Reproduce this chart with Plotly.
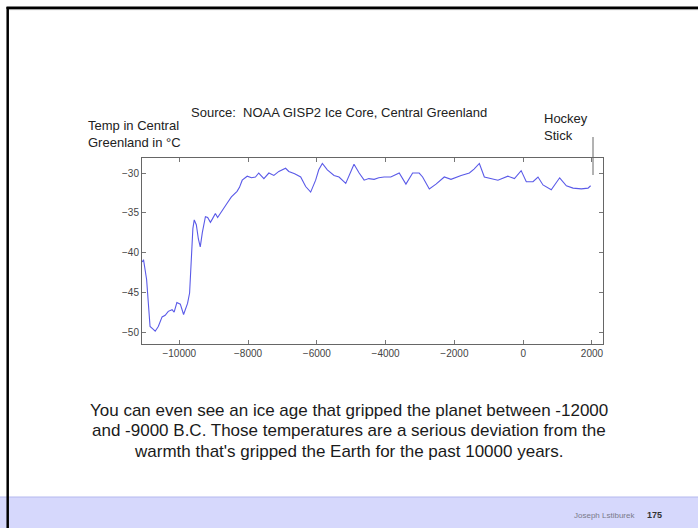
import plotly.graph_objects as go

W, H = 698, 528

years = [-11080, -11040, -10950, -10900, -10850, -10770, -10700, -10610, -10500, -10410,
         -10320, -10210, -10150, -10070, -9970, -9875, -9825, -9760, -9700, -9650,
         -9605, -9565, -9505, -9445, -9390, -9330, -9240, -9175, -9095, -9040,
         -8950, -8885, -8745, -8610, -8485, -8320, -8250, -8170, -8025, -7900,
         -7785, -7690, -7540, -7395, -7250, -7105, -6910, -6815, -6645, -6470,
         -6325, -6180, -6035, -5945, -5840, -5695, -5500, -5355, -5160, -5045,
         -4920, -4770, -4625, -4490, -4335, -4200, -4045, -3850, -3730, -3605,
         -3410, -3215, -3025, -2925, -2730, -2535, -2295, -2100, -1805, -1565,
         -1430, -1275, -1130, -935, -735, -445, -255, -60, 90, 285,
         430, 575, 815, 1060, 1255, 1450, 1690, 1885, 1960]
temps = [-41.2, -40.9, -43.4, -47.0, -49.3, -49.6, -49.9, -49.3, -48.1, -47.9,
         -47.4, -47.2, -47.5, -46.3, -46.5, -47.8, -47.2, -46.4, -45.1, -40.0,
         -37.0, -35.9, -36.5, -38.3, -39.3, -37.5, -35.5, -35.6, -36.2, -35.8,
         -35.1, -35.6, -34.6, -33.8, -33.0, -32.3, -31.8, -30.9, -30.4, -30.6,
         -30.5, -30.0, -30.7, -30.0, -30.3, -29.8, -29.4, -29.8, -30.1, -30.5,
         -31.7, -32.4, -30.9, -29.6, -28.8, -29.6, -30.3, -30.5, -31.3, -30.2,
         -28.9, -30.0, -30.9, -30.7, -30.8, -30.6, -30.5, -30.5, -30.3, -30.0,
         -31.4, -30.0, -30.0, -30.5, -32.0, -31.4, -30.5, -30.8, -30.3, -30.0,
         -29.5, -28.8, -30.5, -30.7, -30.9, -30.4, -30.7, -29.7, -31.1, -31.1,
         -30.5, -31.5, -32.1, -30.6, -31.6, -31.9, -32.0, -31.9, -31.6]

x_ticks = [-10000, -8000, -6000, -4000, -2000, 0, 2000]
x_tick_labels = ["\u221210000", "\u22128000", "\u22126000", "\u22124000", "\u22122000", "0", "2000"]
y_ticks = [-50, -45, -40, -35, -30]
y_tick_labels = ["\u221250", "\u221245", "\u221240", "\u221235", "\u221230"]

title_text = "Source:  NOAA GISP2 Ice Core, Central Greenland"
ylabel_text = "Temp in Central<br>Greenland in °C"
hockey_text = "Hockey<br>Stick"
caption_lines = ["You can even see an ice age that gripped the planet between -12000",
                 "and -9000 B.C. Those temperatures are a serious deviation from the",
                 "warmth that's gripped the Earth for the past 10000 years."]
author_text = "Joseph Lstiburek"
page_text = "175"

FONT = "Liberation Sans, Arial, sans-serif"

def px(xp):
    return xp / W

def py(yp):
    return 1 - yp / H

fig = go.Figure()
fig.add_trace(go.Scatter(x=years, y=temps, mode="lines",
                         line=dict(color="#5a5ae8", width=1.1),
                         hoverinfo="skip", showlegend=False))

axis_common = dict(showgrid=False, zeroline=False, showline=True, linecolor="#666666",
                   linewidth=1, mirror="ticks", ticks="inside", ticklen=4,
                   tickcolor="#777777", tickfont=dict(family=FONT, size=10, color="#444444"))

fig.update_layout(
    width=W, height=H,
    margin=dict(l=0, r=0, t=0, b=0),
    paper_bgcolor="white", plot_bgcolor="white",
    xaxis=dict(domain=[px(142), px(603)], range=[-11084, 2320],
               tickvals=x_ticks, ticktext=x_tick_labels, **axis_common),
    yaxis=dict(domain=[py(344), py(158)], range=[-51.51, -28.11],
               tickvals=y_ticks, ticktext=y_tick_labels, **axis_common),
    showlegend=False,
)

shapes = [
    dict(type="rect", xref="paper", yref="paper", x0=0, x1=1, y0=0, y1=py(497),
         fillcolor="#d6d8fc", line=dict(width=0), layer="below"),
    dict(type="line", xref="paper", yref="paper", x0=0, x1=1, y0=py(497), y1=py(497),
         line=dict(color="#b4b8ee", width=1)),
    dict(type="line", xref="paper", yref="paper", x0=px(7.7), x1=px(7.7), y0=0, y1=py(7),
         line=dict(color="black", width=2.5)),
    dict(type="line", xref="paper", yref="paper", x0=px(6.5), x1=1, y0=py(7.7), y1=py(7.7),
         line=dict(color="black", width=2.5)),
    dict(type="line", xref="paper", yref="paper", x0=px(9), x1=1, y0=py(9.6), y1=py(9.6),
         line=dict(color="#9a9a9a", width=1)),
    dict(type="line", xref="paper", yref="paper", x0=px(593), x1=px(593), y0=py(137), y1=py(175),
         line=dict(color="#666666", width=1)),
]
fig.update_layout(shapes=shapes)

ann = [
    dict(text=title_text, x=px(339), y=py(113), font=dict(size=13, color="#222222")),
    dict(text=ylabel_text, x=px(86), y=py(134), xanchor="left", align="left",
         font=dict(size=13, color="#222222")),
    dict(text=hockey_text, x=px(542), y=py(127), xanchor="left", align="left",
         font=dict(size=13, color="#222222")),
    dict(text=author_text, x=px(637), y=py(515), xanchor="right",
         font=dict(size=8, color="#7a7a8a")),
    dict(text="<b>" + page_text + "</b>", x=px(645), y=py(515), xanchor="left",
         font=dict(size=9, color="#333333")),
]
for i, line in enumerate(caption_lines):
    ann.append(dict(text=line, x=px(349), y=py(410 + 20.5 * i),
                    font=dict(size=17, color="#1a1a1a")))
for a in ann:
    a.setdefault("xanchor", "center")
    a.update(xref="paper", yref="paper", yanchor="middle", showarrow=False)
    a["font"]["family"] = FONT
fig.update_layout(annotations=ann)

fig.write_html("out.html", config={"displayModeBar": False, "staticPlot": True},
               post_script="document.body.style.margin='0';document.body.style.overflow='hidden';")
